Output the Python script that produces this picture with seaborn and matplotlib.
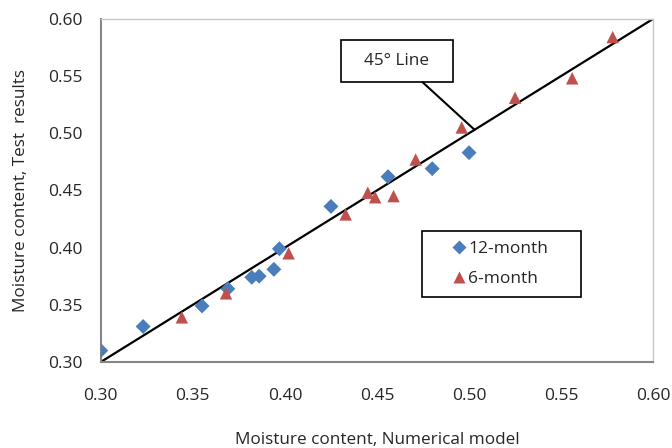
import pandas as pd
import numpy as np
import matplotlib
matplotlib.use("Agg")
import matplotlib.pyplot as plt
from matplotlib.patches import Rectangle
import seaborn as sns

# values
x_12 = [0.300, 0.323, 0.355, 0.369, 0.382, 0.386, 0.394, 0.397, 0.425, 0.456, 0.480, 0.500]
y_12 = [0.310, 0.331, 0.349, 0.364, 0.374, 0.375, 0.381, 0.399, 0.436, 0.462, 0.469, 0.483]
x_6 = [0.344, 0.368, 0.402, 0.433, 0.445, 0.449, 0.459, 0.471, 0.496, 0.525, 0.556, 0.578]
y_6 = [0.339, 0.360, 0.395, 0.429, 0.448, 0.444, 0.445, 0.477, 0.505, 0.531, 0.548, 0.584]
line_xy = [0.30, 0.60]
ticks = [0.30, 0.35, 0.40, 0.45, 0.50, 0.55, 0.60]

df = pd.concat([
    pd.DataFrame({"x": x_12, "y": y_12, "series": "12-month"}),
    pd.DataFrame({"x": x_6, "y": y_6, "series": "6-month"}),
])

sns.set_theme(style="white")
plt.rcParams["font.family"] = ["Open Sans", "DejaVu Sans"]
txt = "#262626"
marker_sizes = {"12-month": 58, "6-month": 80}

fig = plt.figure(figsize=(6.72, 4.48), dpi=100)
ax = fig.add_axes([0.150, 0.192, 0.822, 0.766])

# 45 degree line
sns.lineplot(x=line_xy, y=line_xy, color="black", linewidth=1.6, ax=ax, zorder=2)

sns.scatterplot(data=df, x="x", y="y", hue="series", style="series", size="series",
                palette={"12-month": "#4a7ebb", "6-month": "#c0504d"},
                markers={"12-month": "D", "6-month": "^"},
                sizes=marker_sizes, edgecolor="none", ax=ax, zorder=3)

ax.set_xlim(0.30, 0.60)
ax.set_ylim(0.30, 0.60)
ax.set_xticks(ticks)
ax.set_yticks(ticks)
ax.set_xticklabels([f"{t:.2f}" for t in ticks])
ax.set_yticklabels([f"{t:.2f}" for t in ticks])
ax.tick_params(direction="in", length=4, width=1, color="#868686",
               labelsize=12.5, colors=txt)
ax.tick_params(axis="y", pad=13)
ax.tick_params(axis="x", pad=19)

for s in ["left", "bottom"]:
    ax.spines[s].set_color("#868686")
    ax.spines[s].set_linewidth(1.5)
for s in ["top", "right"]:
    ax.spines[s].set_color("#c8c8c8")
    ax.spines[s].set_linewidth(1.0)

ax.set_xlabel("Moisture content, Numerical model", fontsize=12.3, color=txt, labelpad=20)
ax.set_ylabel("Moisture content, Test  results", fontsize=12.3, color=txt, labelpad=13.5)

# "45° Line" callout box with leader line
ax.add_patch(Rectangle((0.4303, 0.5445), 0.0608, 0.037, fc="white", ec="black",
                       lw=1.2, zorder=4))
ax.text(0.4607, 0.563, "45\u00b0 Line", ha="center", va="center",
        fontsize=12.3, color=txt, zorder=5)
ax.annotate("", xy=(0.503, 0.503), xytext=(0.4748, 0.5445),
            arrowprops=dict(arrowstyle="-", color="black", lw=1.5,
                            shrinkA=0, shrinkB=0), zorder=4)

# legend box
ax.add_patch(Rectangle((0.4743, 0.3566), 0.0866, 0.0579, fc="white", ec="black",
                       lw=1.2, zorder=4))
leg = ax.legend(title=None, loc="center left", bbox_to_anchor=(0.4905, 0.3857),
                bbox_transform=ax.transData, fontsize=12.5, frameon=False,
                borderpad=0, borderaxespad=0, handletextpad=0.15,
                labelspacing=0.75, handlelength=0.8)
for h, t in zip(leg.legend_handles, leg.get_texts()):
    if hasattr(h, "set_markersize"):
        h.set_markersize(np.sqrt(marker_sizes[t.get_text()]))
leg.set_zorder(6)

fig.savefig("out.png", dpi=100)
